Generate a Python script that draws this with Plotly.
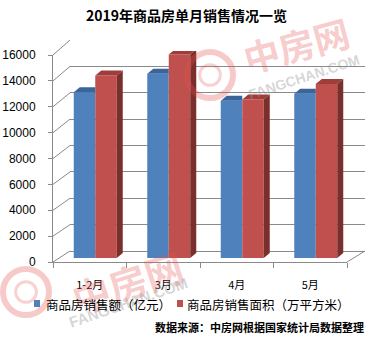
import plotly.graph_objects as go

W, H = 372, 337

# ---- data ----
categories = ["1-2月", "3月", "4月", "5月"]
sales_amount = [12803, 14236, 12150, 12700]      # 商品房销售额（亿元）
sales_area = [14102, 15727, 12250, 13450]        # 商品房销售面积（万平方米）
y_ticks = [0, 2000, 4000, 6000, 8000, 10000, 12000, 14000, 16000]
y_tick_text = [str(v) for v in y_ticks]
series_names = ["商品房销售额（亿元）", "商品房销售面积（万平方米）"]

BLUE, BLUE_TOP = "#4f81bd", "#3a659b"
RED, RED_TOP, RED_SIDE = "#c0504d", "#a03c3a", "#7b2f2d"
GRID = "#8a8a8a"

def X(p):
    return p / W

def Y(p):
    return 1 - p / H

# pixel frame of the 3D box
FX0, FX1, FY0, FY1 = 53, 347, 262, 55      # front axes (0 at FY0, 16000 at FY1)
BX0, BX1, BY0, BY1 = 70, 365, 251, 40      # back wall
SX, SY = 5.5, 4                            # bar depth offset
YMAX = 16000
n = len(categories)
cat_px = (FX1 - FX0) / n
bar_w = 21.5 / cat_px
dx = 6 / cat_px
dy = 5 * YMAX / (FY0 - FY1)

fig = go.Figure()

fig.add_trace(go.Scatter(x=[0.5], y=[0], mode="markers", marker=dict(opacity=0),
                         xaxis="x", yaxis="y", showlegend=False, hoverinfo="skip"))

xs = list(range(n))
fig.add_trace(go.Bar(x=xs, y=sales_amount, width=bar_w, offset=-bar_w,
                     marker=dict(color=BLUE, line=dict(width=0)),
                     xaxis="x2", yaxis="y2", showlegend=False, name=series_names[0]))
fig.add_trace(go.Bar(x=xs, y=sales_area, width=bar_w, offset=0,
                     marker=dict(color=RED, line=dict(width=0)),
                     xaxis="x2", yaxis="y2", showlegend=False, name=series_names[1]))

for i in range(n):
    vb, vr = sales_amount[i], sales_area[i]
    xl, xm, xr = i - bar_w, i, i + bar_w
    fig.add_trace(go.Scatter(x=[xl, xl + dx, xm, xm, xl], y=[vb, vb + dy, vb + dy, vb, vb],
                             fill="toself", fillcolor=BLUE_TOP, mode="lines", line=dict(width=0),
                             xaxis="x2", yaxis="y2", showlegend=False, hoverinfo="skip"))
    fig.add_trace(go.Scatter(x=[xm, xm + dx, xr + dx, xr, xm], y=[vr, vr + dy, vr + dy, vr, vr],
                             fill="toself", fillcolor=RED_TOP, mode="lines", line=dict(width=0),
                             xaxis="x2", yaxis="y2", showlegend=False, hoverinfo="skip"))
    fig.add_trace(go.Scatter(x=[xr, xr + dx, xr + dx, xr, xr], y=[0, dy, vr + dy, vr, 0],
                             fill="toself", fillcolor=RED_SIDE, mode="lines", line=dict(width=0),
                             xaxis="x2", yaxis="y2", showlegend=False, hoverinfo="skip"))

fig.add_trace(go.Scatter(x=[0], y=[0], mode="markers", marker=dict(opacity=0),
                         xaxis="x3", yaxis="y3", showlegend=False, hoverinfo="skip"))

fig.update_layout(
    width=W, height=H, autosize=False,
    margin=dict(l=0, r=0, t=0, b=0, pad=0),
    paper_bgcolor="white", plot_bgcolor="rgba(0,0,0,0)",
    showlegend=False,
    xaxis=dict(domain=[X(BX0), X(BX1)], range=[0, 1], showgrid=False, zeroline=False,
               showticklabels=False, ticks="", showline=False, fixedrange=True, automargin=False),
    yaxis=dict(domain=[Y(BY0), Y(BY1)], range=[0, YMAX], tickvals=y_ticks, showgrid=True,
               gridcolor=GRID, gridwidth=1, zeroline=True, zerolinecolor=GRID, zerolinewidth=1,
               showticklabels=False, ticks="", showline=False, fixedrange=True, automargin=False),
    xaxis2=dict(domain=[X(FX0 + SX), X(FX1 + SX)], range=[-0.5, n - 0.5], visible=False,
                anchor="y2", fixedrange=True, automargin=False),
    yaxis2=dict(domain=[Y(FY0 - SY), Y(FY1 - SY)], range=[0, YMAX], visible=False,
                anchor="x2", fixedrange=True, automargin=False),
    xaxis3=dict(domain=[X(FX0), X(FX1)], range=[-0.5, n - 0.5], anchor="y3",
                tickvals=xs, ticktext=categories, ticks="", showgrid=False, zeroline=False,
                showline=True, linecolor=GRID, linewidth=1,
                minor=dict(tickvals=[i - 0.5 for i in range(n + 1)], ticks="outside",
                           ticklen=5, tickcolor=GRID, showgrid=False),
                tickfont=dict(family="Noto Sans CJK SC", size=11, color="#000"),
                ticklabelstandoff=13, fixedrange=True, automargin=False),
    yaxis3=dict(domain=[Y(FY0), Y(FY1)], range=[0, YMAX], anchor="x3",
                tickvals=y_ticks, ticktext=y_tick_text, ticks="outside", ticklen=4,
                tickcolor=GRID, showgrid=False, zeroline=False, showline=True,
                linecolor=GRID, linewidth=1,
                tickfont=dict(family="Liberation Sans", size=12, color="#000"),
                ticklabelstandoff=10, fixedrange=True, automargin=False),
)

shapes = []
for t in y_ticks:
    fy = FY0 - t * (FY0 - FY1) / YMAX
    by = BY0 - t * (BY0 - BY1) / YMAX
    shapes.append(dict(type="line", xref="paper", yref="paper", x0=X(FX0), y0=Y(fy),
                       x1=X(BX0), y1=Y(by), line=dict(color=GRID, width=1)))
shapes.append(dict(type="line", xref="paper", yref="paper", x0=X(FX1), y0=Y(FY0),
                   x1=X(BX1), y1=Y(BY0), line=dict(color=GRID, width=1)))

for cx, cy, r in [(210, 75, 23), (26, 292, 23)]:
    shapes.append(dict(type="circle", xref="paper", yref="paper",
                       x0=X(cx - r), x1=X(cx + r), y0=Y(cy + r), y1=Y(cy - r),
                       line=dict(color="rgba(228,80,80,0.3)", width=6), layer="above"))
    r2 = r * 0.45
    shapes.append(dict(type="circle", xref="paper", yref="paper",
                       x0=X(cx - r2), x1=X(cx + r2), y0=Y(cy + r2), y1=Y(cy - r2),
                       line=dict(color="rgba(228,80,80,0.26)", width=3), layer="above"))

shapes.append(dict(type="rect", xref="paper", yref="paper", x0=X(34), x1=X(40),
                   y0=Y(307), y1=Y(300), fillcolor=BLUE, line=dict(width=0)))
shapes.append(dict(type="rect", xref="paper", yref="paper", x0=X(177), x1=X(183),
                   y0=Y(307), y1=Y(300), fillcolor=RED, line=dict(width=0)))
fig.update_layout(shapes=shapes)

ann = []
wm_red = "rgba(228,80,80,0.3)"
wm_gray = "rgba(150,150,150,0.4)"

def text_ann(x, y, text, font, xanchor="center", angle=0):
    return dict(x=X(x), y=Y(y), xref="paper", yref="paper", text=text, showarrow=False,
                xanchor=xanchor, yanchor="middle", textangle=angle, font=font)

ann.append(text_ann(296, 44, "<b>中房网</b>",
                    dict(family="Noto Sans CJK SC", size=36, color=wm_red), angle=-15))
ann.append(text_ann(304, 77, "<b>FANGCHAN.COM</b>",
                    dict(family="Liberation Sans", size=14, color=wm_gray), angle=-18))
ann.append(text_ann(127, 281, "<b>中房网</b>",
                    dict(family="Noto Sans CJK SC", size=38, color=wm_red), angle=-18))
ann.append(text_ann(128, 302, "<b>FANGCHAN.COM</b>",
                    dict(family="Liberation Sans", size=15, color=wm_gray), angle=-19))

ann.append(text_ann(186, 15, "<b>2019年商品房单月销售情况一览</b>",
                    dict(family="Noto Sans CJK SC", size=14, color="#000")))
ann.append(text_ann(44, 304, series_names[0],
                    dict(family="Noto Sans CJK SC", size=12.5, color="#000"), xanchor="left"))
ann.append(text_ann(185, 304, series_names[1],
                    dict(family="Noto Sans CJK SC", size=12.5, color="#000"), xanchor="left"))
ann.append(text_ann(366, 327, "<b>数据来源：中房网根据国家统计局数据整理</b>",
                    dict(family="Noto Sans CJK SC", size=11, color="#000"), xanchor="right"))
fig.update_layout(annotations=ann)

fig.write_html("out.html")
